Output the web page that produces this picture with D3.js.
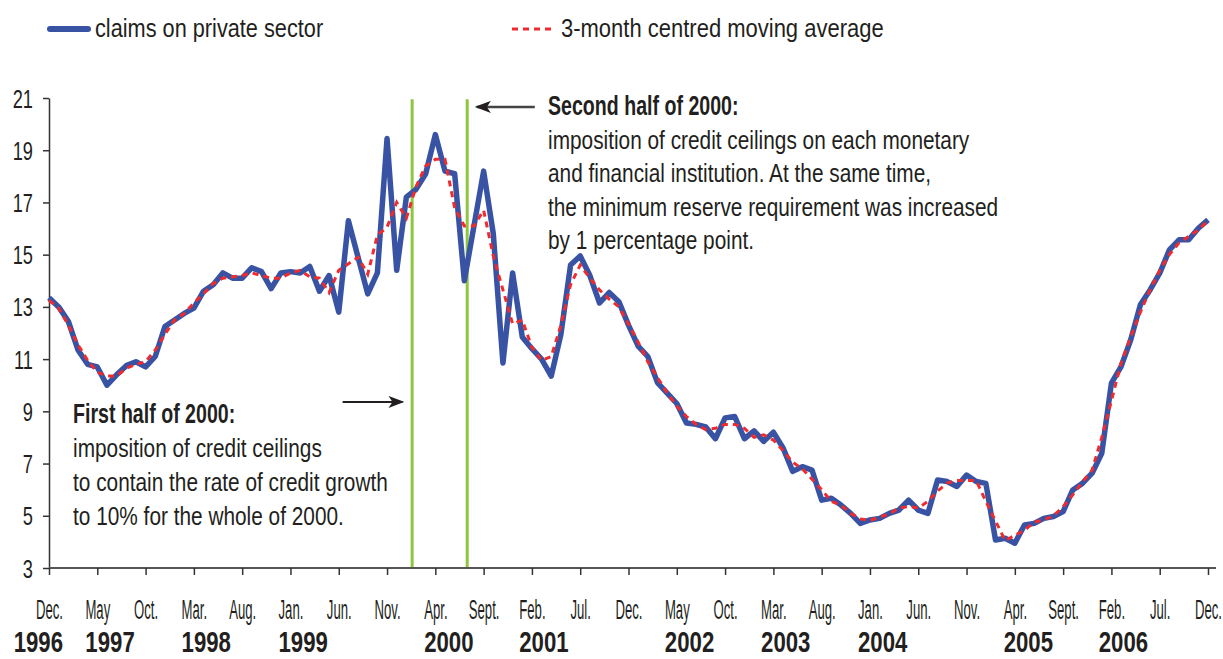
<!DOCTYPE html>
<html lang="en">
<head>
<meta charset="UTF-8">
<title>Claims on private sector</title>
<script src="https://d3js.org/d3.v7.min.js"></script>
<style>
  body { margin: 0; background: #ffffff; }
  svg text { font-family: "Liberation Sans", Arial, sans-serif; fill: #231f20; }
</style>
</head>
<body>
<svg id="chart" width="1223" height="659"></svg>
<script>
// monthly growth rates, Dec. 1996 .. Dec. 2006 (%)
var claims = [
  13.35, 13.0, 12.45, 11.35, 10.8, 10.7, 10.0, 10.4, 10.75, 10.9,
  10.7, 11.1, 12.25, 12.5, 12.75, 12.95, 13.6, 13.85, 14.3, 14.1,
  14.1, 14.5, 14.35, 13.7, 14.3, 14.35, 14.3, 14.55, 13.6, 14.2,
  12.8, 16.3, 14.9, 13.5, 14.3, 19.45, 14.4, 17.2, 17.5, 18.1,
  19.6, 18.2, 18.1, 14.0, 16.1, 18.2, 15.8, 10.85, 14.3, 11.85,
  11.4, 11.0, 10.35, 11.95, 14.6, 14.95, 14.2, 13.15, 13.55, 13.2,
  12.3, 11.5, 11.1, 10.1, 9.7, 9.3, 8.55, 8.5, 8.4, 7.95,
  8.75, 8.8, 7.95, 8.25, 7.85, 8.2, 7.6, 6.7, 6.88, 6.75,
  5.6, 5.67, 5.41, 5.09, 4.71, 4.84, 4.9, 5.09, 5.22, 5.6,
  5.22, 5.09, 6.37, 6.31, 6.12, 6.56, 6.31, 6.24, 4.07, 4.14,
  3.95, 4.65, 4.71, 4.9, 4.97, 5.16, 5.99, 6.24, 6.63, 7.39,
  10.08, 10.71, 11.74, 13.08, 13.65, 14.29, 15.18, 15.57, 15.57, 16.01,
  16.33
];

var movingAvg = [
  13.25, 12.95, 12.3, 11.55, 10.95, 10.5, 10.35, 10.35, 10.65, 10.8,
  10.9, 11.35, 11.95, 12.5, 12.75, 13.15, 13.5, 13.9, 14.1, 14.15,
  14.2, 14.3, 14.2, 14.1, 14.1, 14.3, 14.4, 14.15, 14.1, 13.55,
  14.4, 14.65, 14.9, 14.25, 15.75, 16.05, 17.0, 16.4, 17.6, 18.4,
  18.65, 18.65, 16.8, 16.1, 16.1, 16.7, 14.95, 13.65, 12.35, 12.5,
  11.45, 10.95, 11.1, 12.3, 13.85, 14.6, 14.1, 13.65, 13.3, 13.0,
  12.35, 11.65, 10.9, 10.3, 9.7, 9.2, 8.8, 8.5, 8.3, 8.35,
  8.5, 8.5, 8.35, 8.0, 8.1, 7.9, 7.5, 7.05, 6.8, 6.4,
  6.0, 5.55, 5.4, 5.1, 4.88, 4.82, 4.95, 5.07, 5.3, 5.35,
  5.3, 5.55, 5.95, 6.25, 6.35, 6.35, 6.35, 5.55, 4.8, 4.05,
  4.25, 4.45, 4.75, 4.85, 5.0, 5.35, 5.8, 6.3, 6.75, 8.0,
  9.4, 10.85, 11.85, 12.8, 13.65, 14.4, 15.0, 15.45, 15.7, 15.95,
  16.3
];

// one label every 5 months
var tickNames = ["Dec.", "May", "Oct.", "Mar.", "Aug.", "Jan.", "Jun.", "Nov.", "Apr.",
  "Sept.", "Feb.", "Jul.", "Dec.", "May", "Oct.", "Mar.", "Aug.", "Jan.", "Jun.",
  "Nov.", "Apr.", "Sept.", "Feb.", "Jul.", "Dec."];
var years = ["1996", "1997", "1998", "1999", "2000", "2001", "2002", "2003", "2004", "2005", "2006"];
var yearTick = [0, 1, 3, 5, 8, 10, 13, 15, 17, 20, 22];
var yTicks = [3, 5, 7, 9, 11, 13, 15, 17, 19, 21];

// credit ceiling periods (months since Dec. 1996)
var ceilingMarks = [37.6, 43.3];

var firstNote = ["First half of 2000:",
  "imposition of credit ceilings",
  "to contain the rate of credit growth",
  "to 10% for the whole of 2000."];
var secondNote = ["Second half of 2000:",
  "imposition of credit ceilings on each monetary",
  "and financial institution. At the same time,",
  "the minimum reserve requirement was increased",
  "by 1 percentage point."];

var svg = d3.select("#chart");

var x = d3.scaleLinear().domain([0, 120]).range([49, 1208]);
var y = d3.scaleLinear().domain([3, 21]).range([568, 98]);

// text helper: condensed type via horizontal scale
function label(sel, px, py, txt, size, sx, weight, anchor) {
  return sel.append("text")
    .attr("transform", "translate(" + px + "," + py + ") scale(" + sx + ",1)")
    .attr("font-size", size)
    .attr("font-weight", weight || "normal")
    .attr("text-anchor", anchor || "start")
    .text(txt);
}

// green markers
svg.selectAll(".mark")
  .data(ceilingMarks)
  .enter().append("line")
  .attr("x1", function(d) { return x(d); })
  .attr("x2", function(d) { return x(d); })
  .attr("y1", y(20.95)).attr("y2", y(3))
  .attr("stroke", "#8dc63f")
  .attr("stroke-width", 3);

// axes
var yAxis = svg.append("g")
  .attr("transform", "translate(" + x(0) + ",0)")
  .call(d3.axisLeft(y).tickValues(yTicks).tickSize(6).tickSizeOuter(0));
yAxis.select(".domain").attr("stroke", "#333").attr("stroke-width", 1.5);
yAxis.selectAll(".tick line").attr("stroke", "#333").attr("stroke-width", 1.5);
yAxis.selectAll(".tick text")
  .attr("x", 0).attr("dy", "0.36em")
  .attr("font-size", 25)
  .attr("fill", "#231f20")
  .attr("transform", "translate(-16,0) scale(0.73,1)");

var xAxis = svg.append("g")
  .attr("transform", "translate(0," + y(3) + ")")
  .call(d3.axisBottom(x).tickValues(d3.range(0, 121, 5)).tickSize(7).tickSizeOuter(0)
    .tickFormat(function(d, i) { return tickNames[i]; }));
xAxis.select(".domain").attr("stroke", "#555").attr("stroke-width", 2)
  .attr("d", "M" + x(0) + ",0H" + (x(120) + 8));
xAxis.selectAll(".tick line").attr("stroke", "#333").attr("stroke-width", 1.5);
xAxis.selectAll(".tick text")
  .attr("y", 0).attr("dy", 0)
  .attr("font-size", 28)
  .attr("fill", "#231f20")
  .attr("transform", "translate(0,51) scale(0.47,1)");

// year labels lined up with the first month label of the year
var monthNodes = xAxis.selectAll(".tick text").nodes();
var svgBox = svg.node().getBoundingClientRect();
years.forEach(function(yr, i) {
  var r = monthNodes[yearTick[i]].getBoundingClientRect();
  if (i === 0) {
    label(svg, r.right - svgBox.left, 652, yr, 30, 0.74, "bold", "end");
  } else {
    label(svg, r.left - svgBox.left, 652, yr, 30, 0.74, "bold", "start");
  }
});

// series
var line = d3.line()
  .x(function(d, i) { return x(i); })
  .y(function(d) { return y(d); });

svg.append("path")
  .datum(claims)
  .attr("d", line)
  .attr("fill", "none")
  .attr("stroke", "#3953a4")
  .attr("stroke-width", 5.5)
  .attr("stroke-linejoin", "round");

svg.append("path")
  .datum(movingAvg)
  .attr("d", line)
  .attr("fill", "none")
  .attr("stroke", "#ef2b2d")
  .attr("stroke-width", 3)
  .attr("stroke-dasharray", "6,5");

// legend
svg.append("line")
  .attr("x1", 50).attr("x2", 88).attr("y1", 29).attr("y2", 29)
  .attr("stroke", "#3953a4").attr("stroke-width", 6).attr("stroke-linecap", "round");
label(svg, 95, 37, "claims on private sector", 26.5, 0.82);

svg.append("line")
  .attr("x1", 512).attr("x2", 552).attr("y1", 29).attr("y2", 29)
  .attr("stroke", "#ef2b2d").attr("stroke-width", 3).attr("stroke-dasharray", "6,5");
label(svg, 561, 37, "3-month centred moving average", 26.5, 0.83);

// arrows
svg.append("defs").append("marker")
  .attr("id", "head")
  .attr("viewBox", "0 0 16 12")
  .attr("refX", 14).attr("refY", 6)
  .attr("markerWidth", 16).attr("markerHeight", 12)
  .attr("markerUnits", "userSpaceOnUse")
  .attr("orient", "auto")
  .append("path")
  .attr("d", "M0,0 L16,6 L0,12 L4,6 Z")
  .attr("fill", "#231f20");

svg.append("line")
  .attr("x1", x(30.4)).attr("x2", x(36.6))
  .attr("y1", y(9.36)).attr("y2", y(9.36))
  .attr("stroke", "#231f20").attr("stroke-width", 2)
  .attr("marker-end", "url(#head)");

svg.append("line")
  .attr("x1", x(50.3)).attr("x2", x(44.3))
  .attr("y1", y(20.66)).attr("y2", y(20.66))
  .attr("stroke", "#444").attr("stroke-width", 2.5)
  .attr("marker-end", "url(#head)");

// notes
firstNote.forEach(function(t, i) {
  if (i === 0) label(svg, 73, 423, t, 28, 0.70, "bold");
  else label(svg, 73, 423 + i * 34, t, 25.4, 0.82);
});
secondNote.forEach(function(t, i) {
  if (i === 0) label(svg, 548, 115, t, 28, 0.70, "bold");
  else label(svg, 548, 115 + i * 33.5, t, 25.4, 0.82);
});
</script>
</body>
</html>
